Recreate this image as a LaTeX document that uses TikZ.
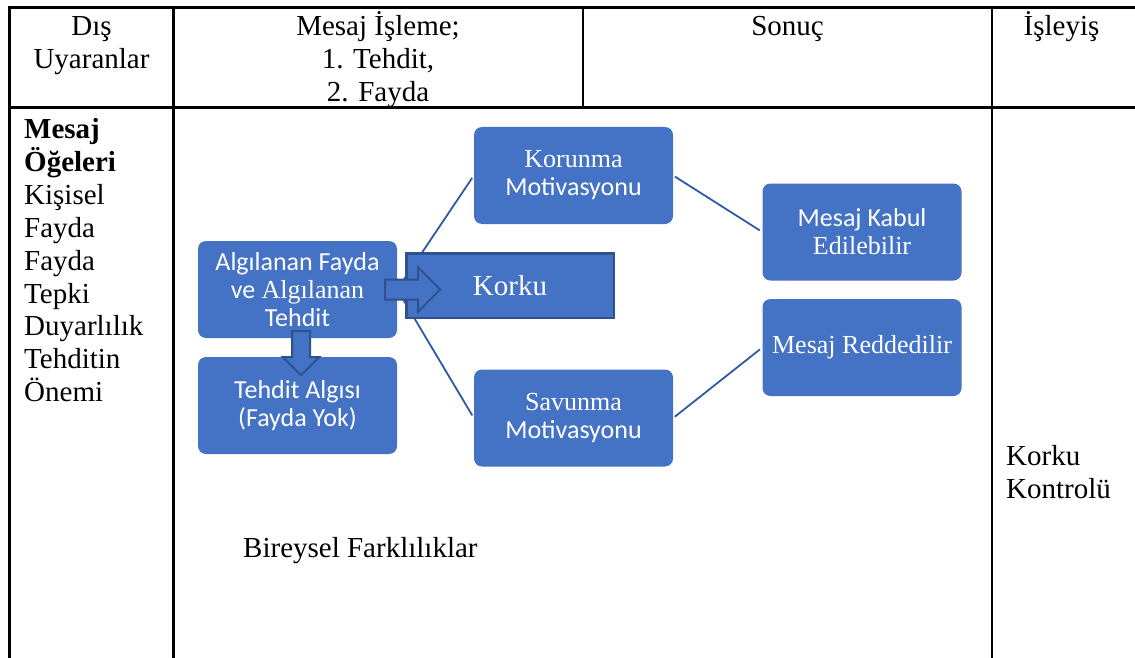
\documentclass[tikz,border=0pt]{standalone}
\usepackage{fontspec}
\setmainfont{Liberation Serif}
\newfontfamily\calibri{Carlito}
\usetikzlibrary{shapes.arrows}

\definecolor{boxblue}{HTML}{4472C4}
\definecolor{edgeblue}{HTML}{2F528F}
\definecolor{linkblue}{HTML}{2F5AA3}

\tikzset{
  rule/.style={line width=2.5pt, black},
  cell/.style={anchor=base, inner sep=0pt, font=\fontsize{29}{33}\selectfont},
  leftcell/.style={cell, anchor=base west},
  stepbox/.style={fill=boxblue, rounded corners=8pt, minimum width=199pt,
    minimum height=97pt, align=center, text=white, inner sep=2pt,
    font=\fontsize{26}{28}\selectfont},
  fearbox/.style={fill=boxblue, draw=edgeblue, line width=2.5pt,
    minimum width=207.5pt, minimum height=64.5pt, text=white,
    font=\fontsize{29}{33}\selectfont},
  link/.style={draw=linkblue, line width=1.8pt},
  blockarrow/.style={single arrow, fill=boxblue, draw=edgeblue, line width=2pt,
    anchor=tail}
}

\begin{document}
\begin{tikzpicture}[x=1pt, y=-1pt]
  \useasboundingbox (0,0) rectangle (1135,658);

  % table rules
  \draw[rule] (9.5,7.5) -- (1135,7.5);
  \draw[rule] (9.5,107.5) -- (1135,107.5);
  \draw[rule] (9.5,6.25) -- (9.5,658);
  \draw[rule] (173.5,6.25) -- (173.5,658);
  \draw[rule] (583,6.25) -- (583,108.75);
  \draw[rule] (992,6.25) -- (992,658);

  % header cells
  \node[cell] (h1a) at (91.5,36) {Dış};
  \node[cell] (h1b) at (91.5,69) {Uyaranlar};
  \node[cell] (h2a) at (378,36) {Mesaj İşleme;};
  \node[cell] (h2b) at (378,69) {1. Tehdit,};
  \node[cell] (h2c) at (378,101.5) {2. Fayda};
  \node[cell] (h3) at (787.5,36) {Sonuç};
  \node[cell] (h4) at (1061.5,36) {İşleyiş};

  % message elements column
  \foreach \txt [count=\i from 0] in {\textbf{Mesaj}, \textbf{Öğeleri}, Kişisel,
      Fayda, Fayda, Tepki, Duyarlılık, Tehditin, Önemi}
    \node[leftcell] (el\i) at (24,139+32.8*\i) {\txt};

  % process column
  \node[leftcell] (fc1) at (1006,465) {Korku};
  \node[leftcell] (fc2) at (1006,498) {Kontrolü};
  \node[leftcell] (ind) at (243,557) {Bireysel Farklılıklar};

  % diagram boxes
  \node[stepbox] (kor) at (573.5,175.5) {Korunma\\{\calibri Motivasyonu}};
  \node[stepbox] (sav) at (573.5,418) {Savunma\\{\calibri Motivasyonu}};
  \node[stepbox] (kab) at (862,232) {{\calibri Mesaj Kabul}\\Edilebilir};
  \node[stepbox] (red) at (862,347.5) {Mesaj Reddedilir};
  \node[stepbox] (alg) at (297.5,289.5)
    {{\calibri Algılanan Fayda}\\{\calibri ve} Algılanan\\{\calibri Tehdit}};
  \node[stepbox] (teh) at (297.5,405.5)
    {{\calibri Tehdit Algısı}\\{\calibri (Fayda Yok)}};

  % connectors
  \draw[link, shorten >=3pt] (alg.east) -- (kor.west);
  \draw[link, shorten >=3pt] (alg.east) -- (sav.west);
  \draw[link, shorten <=2pt, shorten >=3pt] (kor.east) -- (kab.west);
  \draw[link, shorten <=2pt, shorten >=3pt] (sav.east) -- (red.west);

  % fear box over the connector starts
  \node[fearbox] (fear) at (510,285.5) {Korku};

  % block arrows
  \node[blockarrow, inner xsep=0pt, inner ysep=9pt, minimum height=55pt,
    single arrow head extend=12pt] (toFear) at ([xshift=-13pt]alg.east) {};
  \node[blockarrow, inner sep=8pt, minimum height=44pt,
    single arrow head extend=9pt, shape border rotate=270] (toThreat)
    at ([xshift=3.5pt, yshift=8pt]alg.south) {};
\end{tikzpicture}
\end{document}
